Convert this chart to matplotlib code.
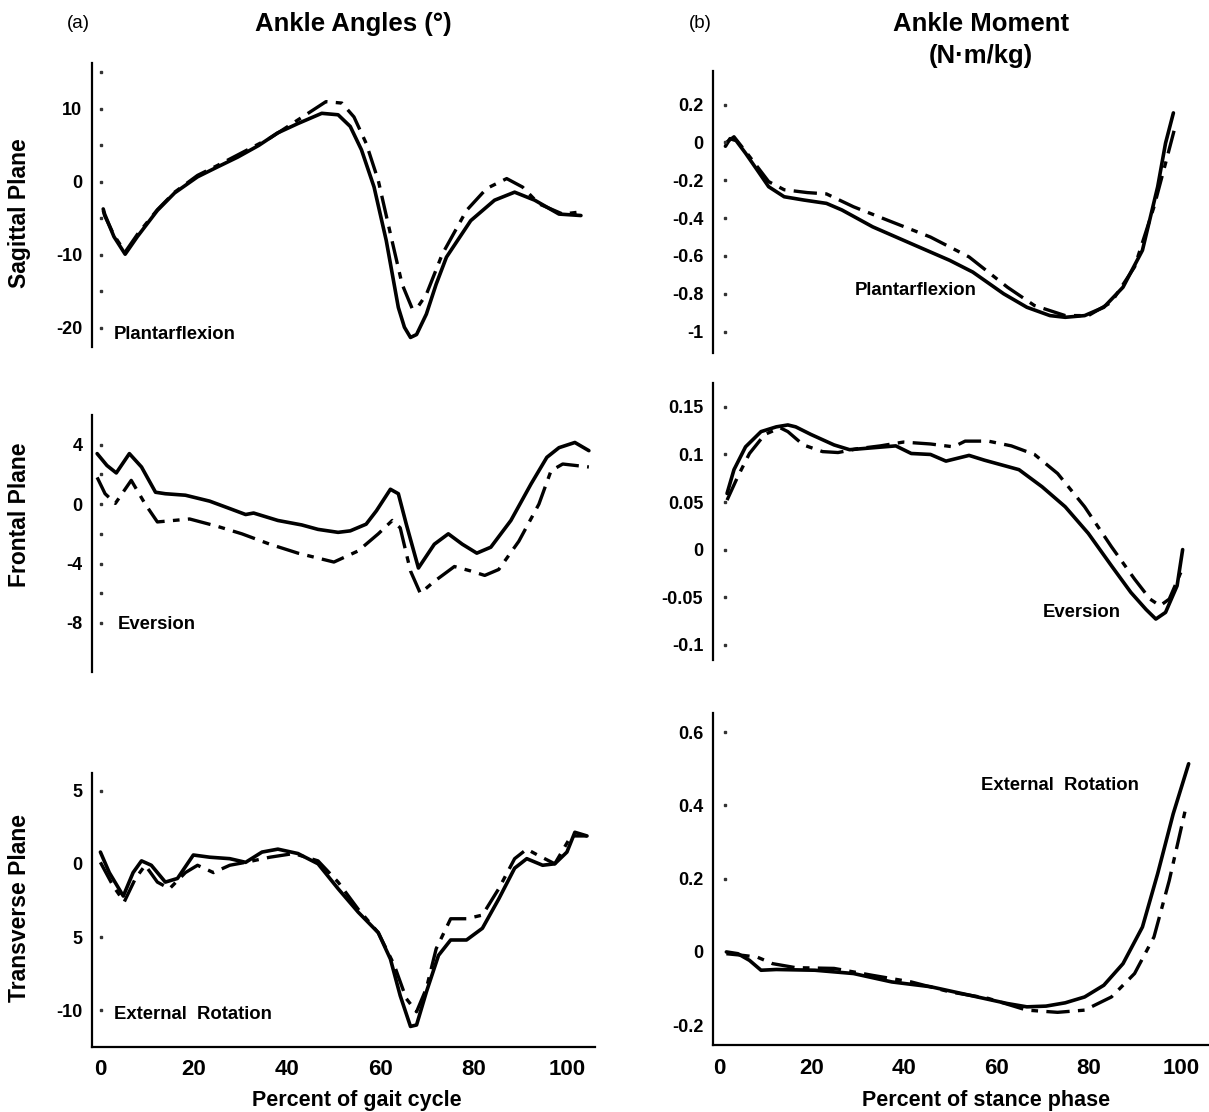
import matplotlib
matplotlib.use("Agg")
import matplotlib.pyplot as plt

plt.rcParams['font.family'] = ['Liberation Sans', 'DejaVu Sans']

# ---- Ankle angles (percent of gait cycle) ----
sag_ang_x = [0.7, 1.0, 3, 5.4, 8, 12.3, 16, 20.9, 25, 29.5, 34, 38, 42.4, 47.5, 51, 53.6, 56, 58.7,
             61.3, 63.9, 65.2, 66.5, 67.8, 69.9, 72, 74.2, 79.4, 84.5, 88.8, 93.1, 98.3, 103]
sag_ang_solid = [-3.7, -4.4, -7.5, -9.9, -7.5, -3.9, -1.5, 0.7, 2.0, 3.4, 5.0, 6.7, 8.0, 9.4, 9.2, 7.6, 4.4, -0.7,
                 -8.0, -17.2, -19.9, -21.3, -20.9, -18.1, -14.0, -10.3, -5.3, -2.5, -1.4, -2.5, -4.4, -4.6]
sag_ang_dx = [0.7, 1.0, 3, 5.4, 8, 12.3, 16, 20.9, 25, 29.5, 36.4, 42.4, 48.4, 51.8, 54.4, 57, 59.6,
              62.2, 64.7, 66.9, 68.2, 69.9, 73.3, 78.5, 82.8, 87.1, 90.5, 94, 99.1, 103]
sag_ang_dash = [-3.9, -4.6, -7.3, -9.6, -7.2, -3.8, -1.4, 0.9, 2.2, 3.7, 6.0, 8.5, 11.0, 10.8, 8.9, 5.3, 0.2,
                -7.1, -14.0, -17.4, -17.0, -15.4, -9.9, -3.9, -0.9, 0.46, -0.7, -3.0, -4.4, -4.1]

fro_ang_x = [-0.6, 1.5, 3.5, 6.3, 8.9, 11.9, 14, 18.3, 23.5, 27.8, 31.2, 32.9, 38.1, 43.2, 46.7, 51, 53.6,
             57, 59.2, 62.2, 63.9, 65.6, 68.2, 71.6, 74.6, 77.6, 80.7, 83.7, 88, 92.3, 95.7, 98.3, 101.7, 104.7]
fro_ang_solid = [3.4, 2.6, 2.1, 3.4, 2.5, 0.8, 0.7, 0.6, 0.2, -0.3, -0.7, -0.6, -1.1, -1.4, -1.7, -1.9, -1.8,
                 -1.35, -0.45, 1.0, 0.7, -1.35, -4.3, -2.7, -2.0, -2.7, -3.3, -2.9, -1.1, 1.35, 3.15, 3.8, 4.15, 3.6]
fro_ang_dx = [-0.6, 1.1, 3.3, 6.7, 9.7, 12.3, 19.2, 25.2, 30.4, 36.4, 42.4, 50.1, 55.3, 59.6, 62.6, 64.3,
              66.5, 68.6, 71.6, 75.9, 79.4, 82.4, 85.4, 89.7, 94, 96.6, 99.1, 104.7]
fro_ang_dash = [1.8, 0.7, 0.05, 1.6, 0.0, -1.2, -1.0, -1.5, -2.0, -2.7, -3.3, -3.9, -3.15, -2.0, -1.1, -1.6,
                -4.5, -6.0, -5.2, -4.2, -4.5, -4.8, -4.4, -2.5, 0.0, 2.25, 2.7, 2.5]

tra_ang_x = [0.1, 2, 5, 7.1, 8.9, 11, 14, 16.6, 20, 23.5, 27.8, 31.2, 34.7, 38.1, 42.4, 46.7, 51, 55.3,
             59.6, 62.2, 64.3, 66.5, 67.8, 69.9, 72.5, 75.1, 78.5, 81.9, 85.4, 88.8, 91.4, 94.8, 97.4, 100,
             101.7, 104.3]
tra_ang_solid = [0.8, -0.6, -2.2, -0.6, 0.2, -0.1, -1.25, -1.0, 0.6, 0.45, 0.35, 0.1, 0.8, 1.0, 0.7, 0.0,
                 -1.7, -3.3, -4.7, -6.5, -9.0, -11.1, -11.0, -8.75, -6.25, -5.2, -5.2, -4.4, -2.4, -0.3,
                 0.35, -0.1, 0.0, 0.8, 2.15, 1.9]
tra_ang_dx = [0.1, 2.8, 5.2, 7.6, 9.7, 12.3, 14.9, 18.3, 20.9, 24.3, 27.8, 31.2, 36.4, 41.5, 46.7, 51,
              55.3, 59.6, 63, 65.6, 67.8, 69.9, 72, 75.1, 78.5, 81.9, 85.4, 88.8, 91.4, 94, 97.4, 100.9, 104.3]
tra_ang_dash = [0.1, -1.5, -2.6, -1.0, -0.1, -1.25, -1.7, -0.6, -0.1, -0.6, -0.1, 0.1, 0.45, 0.7, 0.2,
                -1.25, -3.1, -4.7, -6.9, -9.2, -10.1, -8.5, -5.8, -3.75, -3.75, -3.5, -1.7, 0.35, 1.0, 0.55,
                0.0, 1.9, 1.9]

# ---- Ankle moments (percent of stance phase) ----
sag_mom_x = [1.4, 2.4, 3.7, 5.75, 8.25, 10.75, 14.1, 18.25, 23.25, 26.6, 33.25, 41.6, 49.9, 54.9, 61.6,
             66.6, 71.6, 74.9, 79.1, 83.25, 87.4, 91.6, 94.9, 96.6, 98.3]
sag_mom_solid = [-0.02, 0.02, 0.01, -0.057, -0.145, -0.234, -0.287, -0.304, -0.322, -0.357, -0.446, -0.535,
                 -0.623, -0.685, -0.80, -0.871, -0.915, -0.924, -0.915, -0.871, -0.765, -0.57, -0.234,
                 -0.004, 0.156]
sag_mom_dx = [1.6, 3.25, 6.6, 10.75, 14.1, 19.1, 23.25, 29.1, 37.4, 45.75, 54.1, 62.4, 68.25, 74.9, 79.9,
              84.9, 89.9, 94.1, 96.6, 98.5]
sag_mom_dash = [0.0, 0.03, -0.074, -0.207, -0.25, -0.265, -0.272, -0.34, -0.42, -0.5, -0.605, -0.765,
                -0.862, -0.915, -0.915, -0.844, -0.658, -0.34, -0.11, 0.067]

fro_mom_x = [1.75, 3.25, 5.75, 9.1, 12.4, 14.9, 16.6, 19.9, 24.9, 28.25, 33.25, 38.25, 41.6, 45.75, 49.1,
             54.1, 57.4, 64.9, 69.9, 74.9, 79.9, 84.9, 89.1, 92.4, 94.5, 96.6, 99.1, 100.3]
fro_mom_solid = [0.059, 0.084, 0.108, 0.124, 0.129, 0.131, 0.129, 0.121, 0.110, 0.105, 0.107, 0.109, 0.101,
                 0.100, 0.093, 0.099, 0.094, 0.084, 0.066, 0.045, 0.017, -0.017, -0.045, -0.063, -0.073,
                 -0.066, -0.038, 0.0]
fro_mom_dx = [1.75, 4.1, 6.6, 9.9, 13.25, 14.9, 18.25, 22.4, 25.75, 29.9, 34.9, 39.9, 45.75, 50.75, 53.25,
              58.25, 63.25, 68.25, 73.25, 79.1, 84.9, 89.9, 93.25, 95.4, 97.4, 99.9]
fro_mom_dash = [0.052, 0.077, 0.101, 0.121, 0.128, 0.124, 0.110, 0.103, 0.102, 0.106, 0.109, 0.113, 0.111,
                0.108, 0.114, 0.114, 0.109, 0.100, 0.080, 0.045, 0.003, -0.031, -0.052, -0.059, -0.052, -0.024]

tra_mom_x = [1.6, 4.1, 6.6, 9.1, 12.4, 20.75, 29.1, 37.4, 45.75, 54.1, 62.4, 66.6, 70.75, 74.9, 79.1, 83.25,
             87.4, 91.6, 94.9, 98.25, 101.6]
tra_mom_solid = [0.0, -0.005, -0.023, -0.05, -0.048, -0.05, -0.059, -0.082, -0.095, -0.118, -0.141, -0.15,
                 -0.148, -0.139, -0.123, -0.091, -0.032, 0.068, 0.214, 0.377, 0.514]
tra_mom_dx = [1.6, 4.9, 8.25, 11.6, 16.6, 24.9, 33.25, 41.6, 49.9, 58.25, 66.6, 73.25, 79.1, 84.9, 89.9,
              94.1, 97.4, 101.1]
tra_mom_dash = [-0.005, -0.009, -0.014, -0.032, -0.043, -0.045, -0.064, -0.082, -0.109, -0.127, -0.159,
                -0.165, -0.159, -0.123, -0.059, 0.041, 0.195, 0.40]

x_ticks = [0, 20, 40, 60, 80, 100]

DASH = (0, (7, 2.5, 2, 2.5))
NOTE = 13.3


def style_axes(ax, yticks, ylabels, dots, dot_x, xlim, ylim, bottom=False):
    ax.set_xlim(*xlim)
    ax.set_ylim(*ylim)
    for side in ['top', 'right']:
        ax.spines[side].set_visible(False)
    ax.spines['left'].set_linewidth(1.6)
    if bottom:
        ax.spines['bottom'].set_linewidth(1.6)
        ax.set_xticks(x_ticks)
        ax.tick_params(axis='x', length=0, pad=9, labelsize=16)
        for t in ax.get_xticklabels():
            t.set_fontweight('bold')
    else:
        ax.spines['bottom'].set_visible(False)
        ax.set_xticks([])
    ax.set_yticks(yticks)
    ax.set_yticklabels(ylabels, fontsize=13, fontweight='bold')
    ax.tick_params(axis='y', length=0, pad=7)
    ax.plot([dot_x] * len(dots), dots, 's', ms=1.8, color='#333333',
            transform=ax.get_yaxis_transform(), clip_on=False)


def draw(ax, xs, ys, xd, yd):
    ax.plot(xs, ys, color='black', lw=2.6, solid_joinstyle='round', solid_capstyle='round')
    ax.plot(xd, yd, color='black', lw=2.4, linestyle=DASH)


def main():
    fig = plt.figure(figsize=(12.09, 11.12), dpi=100)

    left_x, left_w = 0.0761, 0.416
    right_x, right_w = 0.5897, 0.4103
    lxlim = (-1.7, 106)
    rxlim = (-1.3, 106)

    # left column
    ax1 = fig.add_axes([left_x, 0.688, left_w, 0.2554])
    draw(ax1, sag_ang_x, sag_ang_solid, sag_ang_dx, sag_ang_dash)
    style_axes(ax1, [10, 0, -10, -20], ['10', '0', '-10', '-20'],
               [15, 10, 5, 0, -5, -10, -15, -20], 0.018, lxlim, (-22.6, 16.3))
    ax1.text(3.0, -20.9, 'Plantarflexion', fontsize=NOTE, fontweight='bold', va='center')

    ax2 = fig.add_axes([left_x, 0.3957, left_w, 0.2311])
    draw(ax2, fro_ang_x, fro_ang_solid, fro_ang_dx, fro_ang_dash)
    style_axes(ax2, [4, 0, -4, -8], ['4', '0', '-4', '-8'],
               [4, 2, 0, -2, -4, -6, -8], 0.018, lxlim, (-11.3, 6.0))
    ax2.text(3.9, -8.1, 'Eversion', fontsize=NOTE, fontweight='bold', va='center')

    ax3 = fig.add_axes([left_x, 0.0585, left_w, 0.2464])
    draw(ax3, tra_ang_x, tra_ang_solid, tra_ang_dx, tra_ang_dash)
    style_axes(ax3, [5, 0, -5, -10], ['5', '0', '5', '-10'],
               [5, -5, -10], 0.018, lxlim, (-12.5, 6.2), bottom=True)
    ax3.text(3.0, -10.3, 'External  Rotation', fontsize=NOTE, fontweight='bold', va='center')
    ax3.set_xlabel('Percent of gait cycle', fontsize=15.5, fontweight='bold')
    ax3.xaxis.set_label_coords(0.527, -0.158)

    # right column
    ax4 = fig.add_axes([right_x, 0.683, right_w, 0.2536])
    draw(ax4, sag_mom_x, sag_mom_solid, sag_mom_dx, sag_mom_dash)
    yt = [0.2, 0, -0.2, -0.4, -0.6, -0.8, -1]
    style_axes(ax4, yt, ['0.2', '0', '-0.2', '-0.4', '-0.6', '-0.8', '-1'],
               yt, 0.024, rxlim, (-1.11, 0.38))
    ax4.text(42.5, -0.78, 'Plantarflexion', fontsize=NOTE, fontweight='bold', ha='center', va='center')

    ax5 = fig.add_axes([right_x, 0.4065, right_w, 0.249])
    draw(ax5, fro_mom_x, fro_mom_solid, fro_mom_dx, fro_mom_dash)
    yt = [0.15, 0.1, 0.05, 0, -0.05, -0.1]
    style_axes(ax5, yt, ['0.15', '0.1', '0.05', '0', '-0.05', '-0.1'],
               yt, 0.024, rxlim, (-0.116, 0.175))
    ax5.text(78.5, -0.066, 'Eversion', fontsize=NOTE, fontweight='bold', ha='center', va='center')

    ax6 = fig.add_axes([right_x, 0.06, right_w, 0.2986])
    draw(ax6, tra_mom_x, tra_mom_solid, tra_mom_dx, tra_mom_dash)
    yt = [0.6, 0.4, 0.2, 0, -0.2]
    style_axes(ax6, yt, ['0.6', '0.4', '0.2', '0', '-0.2'],
               [0.6, 0.4, 0.2], 0.024, rxlim, (-0.255, 0.652), bottom=True)
    ax6.text(73.8, 0.455, 'External  Rotation', fontsize=NOTE, fontweight='bold', ha='center', va='center')
    ax6.set_xlabel('Percent of stance phase', fontsize=15.5, fontweight='bold')
    ax6.xaxis.set_label_coords(0.55, -0.136)

    # row labels and headers
    for y, lab in [(213, 'Sagittal Plane'), (515, 'Frontal Plane'), (908, 'Transverse Plane')]:
        fig.text(20 / 1209, 1 - y / 1112, lab, rotation=90, fontsize=16.5, fontweight='bold',
                 ha='center', va='center')
    fig.text(78 / 1209, 1 - 24 / 1112, '(a)', fontsize=13.5, ha='center', va='center')
    fig.text(353 / 1209, 1 - 24 / 1112, 'Ankle Angles (°)', fontsize=18.5, fontweight='bold',
             ha='center', va='center')
    fig.text(700 / 1209, 1 - 24 / 1112, '(b)', fontsize=13.5, ha='center', va='center')
    fig.text(981 / 1209, 1 - 24 / 1112, 'Ankle Moment', fontsize=18.5, fontweight='bold',
             ha='center', va='center')
    fig.text(981 / 1209, 1 - 56 / 1112, '(N·m/kg)', fontsize=18.5, fontweight='bold',
             ha='center', va='center')

    fig.savefig('out.png', dpi=100, facecolor='white')


if __name__ == "__main__":
    main()
